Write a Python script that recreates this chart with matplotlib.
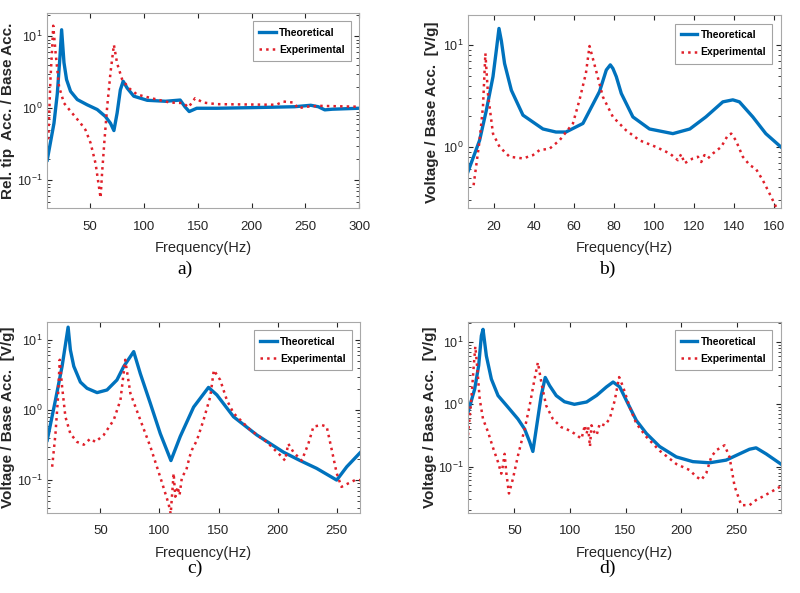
import numpy as np
import matplotlib
matplotlib.use("Agg")
import matplotlib.pyplot as plt
from matplotlib.ticker import LogLocator, NullFormatter

plt.rcParams['font.family'] = ['Liberation Sans', 'DejaVu Sans']

#----------------------------------------------------------------------------------------------------------
# Donnees (frequence en Hz, amplitude)
#----------------------------------------------------------------------------------------------------------

# a) Rel. tip acc.
fa_th = [10, 16.3, 19.4, 21.9, 23.4, 25.6, 28, 31.7, 38, 47, 56.5, 64, 68.8, 72, 75, 78, 80.6, 84.4, 90.5,
         103, 120, 133.6, 138, 142, 149, 167.5, 200, 240, 255, 262, 268, 275, 300]
va_th = [0.19, 0.62, 1.6, 5.3, 12.3, 4.3, 2.5, 1.72, 1.32, 1.12, 0.96, 0.77, 0.62, 0.49, 0.86, 1.8, 2.37,
         1.9, 1.47, 1.29, 1.25, 1.3, 1.05, 0.9, 1.0, 1.0, 1.02, 1.05, 1.1, 1.05, 0.95, 0.97, 1.0]
fa_ex = [11, 13, 14.7, 15.6, 17.8, 21, 25.6, 31.7, 41, 45.6, 50.3, 55, 58, 59.6, 61, 63.3, 65.8, 68.8, 72,
         75, 79.7, 86, 93.6, 106, 124, 136.6, 141.3, 147.5, 155, 167.6, 217, 223, 229.5, 239, 243, 251, 263, 300]
va_ex = [0.37, 2.5, 7.3, 14, 5.9, 2.0, 1.18, 0.91, 0.62, 0.5, 0.33, 0.17, 0.083, 0.057, 0.126, 0.37, 1.07,
         3.1, 7.6, 4.2, 2.5, 1.9, 1.55, 1.39, 1.2, 1.18, 1.03, 1.38, 1.2, 1.14, 1.12, 1.12, 1.24, 1.2, 1.0,
         1.05, 1.08, 1.05]

# b) Voltage
fb_th = [7, 12.8, 16.2, 19.5, 21.2, 22.5, 23.7, 25.3, 28.7, 34.5, 44.5, 51, 56, 64.5, 72.8, 76.2, 78.2,
         79.5, 81.2, 83.7, 89.5, 97.8, 109.5, 118, 126, 134.5, 139.5, 142.8, 149.5, 156, 163.5]
vb_th = [0.57, 1.16, 2.3, 4.9, 9.0, 14.6, 11, 6.6, 3.6, 2.05, 1.5, 1.4, 1.4, 1.7, 3.5, 5.7, 6.4, 5.9, 4.9,
         3.35, 1.97, 1.5, 1.35, 1.5, 1.97, 2.77, 2.9, 2.77, 1.97, 1.35, 1.0]
fb_ex = [9.8, 12.8, 14.5, 15.7, 17, 19.5, 22.8, 27.8, 34.5, 39.5, 42.8, 47.8, 52.8, 59.5, 62.8, 66, 67.8,
         71, 74.5, 79.5, 86, 92.8, 101, 108, 112, 113.7, 115.3, 119.5, 122, 123.7, 125.3, 127, 129.5, 133.7,
         137, 138.7, 141, 144.5, 148, 151, 154.5, 157.8, 161, 163.5]
vb_ex = [0.42, 1.16, 2.5, 8.3, 3.3, 1.35, 1.0, 0.8, 0.77, 0.83, 0.93, 0.96, 1.16, 1.7, 2.9, 5.3, 9.8,
         5.7, 3.1, 1.97, 1.46, 1.16, 1.0, 0.86, 0.74, 0.85, 0.69, 0.77, 0.8, 0.71, 0.83, 0.77, 0.86, 1.0,
         1.3, 1.35, 1.16, 0.8, 0.66, 0.61, 0.47, 0.35, 0.26, 0.22]

# c) Voltage
fc_th = [5, 12, 17.6, 22.7, 24.6, 27.5, 33.1, 38.7, 47.2, 55.6, 64, 69.7, 78.2, 83.8, 92.3, 100.7, 109.7,
         117.6, 128.9, 141.5, 148.6, 162.7, 182.4, 205, 219, 233, 250, 258.5, 269.7]
vc_th = [0.37, 1.39, 4.2, 15.2, 7.2, 4.2, 2.5, 2.04, 1.77, 1.93, 2.68, 4.16, 6.8, 3.3, 1.24, 0.46, 0.19,
         0.42, 1.1, 2.1, 1.64, 0.8, 0.44, 0.25, 0.19, 0.147, 0.1, 0.155, 0.245]
fc_ex = [9.2, 12, 14, 15.6, 17.6, 20.4, 24.6, 30.3, 36, 41.5, 45.8, 52.8, 61.3, 67, 71, 75.4, 83.8, 92.3,
         100.7, 107.7, 109.5, 112, 113.4, 115.4, 117, 119, 122.7, 125.5, 127.5, 131.7, 137.3, 143, 146,
         151.4, 157, 162.7, 176.8, 190.8, 202, 206.3, 209, 213.4, 220.4, 226, 230.3, 237.3, 241.5, 245.8,
         250, 254, 259.9, 265.5, 269.7]
vc_ex = [0.155, 0.46, 1.39, 5.2, 2.15, 0.8, 0.46, 0.35, 0.32, 0.39, 0.35, 0.44, 0.72, 1.39, 5.2, 1.73,
         0.72, 0.3, 0.11, 0.046, 0.033, 0.125, 0.058, 0.08, 0.061, 0.11, 0.139, 0.215, 0.27, 0.37, 0.72,
         1.55, 3.7, 2.68, 1.39, 0.9, 0.52, 0.35, 0.228, 0.19, 0.33, 0.25, 0.19, 0.33, 0.58, 0.61, 0.58,
         0.27, 0.125, 0.08, 0.09, 0.1, 0.1]

# d) Voltage
fd_th = [8.4, 14.4, 18, 20.4, 21.9, 24.9, 29.4, 35.4, 44.3, 53.3, 59.3, 63.8, 66.7, 69.7, 74.2, 77.8,
         81.7, 87.7, 95.1, 104, 115, 124, 132.8, 138.8, 144.8, 152.2, 159.7, 168.7, 180.6, 195.6, 210.5,
         225.5, 240.4, 252.4, 261.4, 267.3, 276.3, 289.5]
vd_th = [0.74, 1.76, 4.2, 12.6, 16, 6.0, 2.54, 1.38, 0.9, 0.58, 0.4, 0.25, 0.175, 0.4, 1.38, 2.7, 2.0,
         1.38, 1.1, 1.0, 1.09, 1.39, 1.9, 2.28, 1.9, 1.02, 0.55, 0.34, 0.21, 0.143, 0.12, 0.115, 0.127,
         0.16, 0.19, 0.2, 0.16, 0.11]
fd_ex = [8.4, 11.4, 13.8, 15, 16.8, 18.9, 21.9, 26.4, 30.9, 35.4, 38.3, 39.8, 41.3, 42.8, 45.2, 48.8,
         53.3, 59.3, 63.8, 68.2, 71.2, 74.8, 78.7, 84.7, 92.2, 98.1, 104, 110.4, 113.4, 115, 116.4, 118,
         119.4, 121.8, 124, 126.8, 131.3, 135.8, 140.3, 144.2, 147.8, 153.7, 159.7, 168.7, 180.6, 195.6,
         207.5, 213.5, 218, 222.5, 227, 231.5, 239, 243.4, 248, 254, 261.4, 267.3, 273.3, 289.5]
vd_ex = [0.32, 1.22, 4.7, 8.5, 3.7, 1.22, 0.58, 0.36, 0.2, 0.118, 0.077, 0.104, 0.16, 0.08, 0.037,
         0.064, 0.15, 0.4, 0.95, 2.54, 4.7, 2.0, 0.95, 0.58, 0.43, 0.39, 0.34, 0.28, 0.46, 0.34, 0.43,
         0.21, 0.46, 0.36, 0.32, 0.49, 0.46, 0.59, 1.16, 2.74, 1.9, 0.9, 0.49, 0.3, 0.18, 0.11, 0.088,
         0.069, 0.061, 0.078, 0.143, 0.183, 0.22, 0.143, 0.048, 0.024, 0.024, 0.029, 0.033, 0.048]

ylab_a = "Rel. tip  Acc. / Base Acc."
ylab_v = "Voltage / Base Acc.  [V/g]"

#----------------------------------------------------------------------------------------------------------

bleu = "#0072BD"
rouge = "#E0202A"

fig = plt.figure(figsize=(8, 5.93), dpi=100)

# (position axes, donnees..., limites, label, x du label, lettre, position lettre, ticks x)
panneaux = [
    ([0.059, 0.649, 0.39, 0.329], fa_th, va_th, fa_ex, va_ex, (10, 300), (0.041, 21), ylab_a, -0.102,
     "a)", (0.231, 0.546), [50, 100, 150, 200, 250, 300]),
    ([0.585, 0.649, 0.391, 0.325], fb_th, vb_th, fb_ex, vb_ex, (7, 163.5), (0.25, 19.6), ylab_v, -0.092,
     "b)", (0.759, 0.546), [20, 40, 60, 80, 100, 120, 140, 160]),
    ([0.059, 0.135, 0.391, 0.322], fc_th, vc_th, fc_ex, vc_ex, (5, 269.7), (0.034, 18), ylab_v, -0.102,
     "c)", (0.244, 0.041), [50, 100, 150, 200, 250]),
    ([0.585, 0.135, 0.391, 0.322], fd_th, vd_th, fd_ex, vd_ex, (8.4, 289.5), (0.018, 21), ylab_v, -0.098,
     "d)", (0.759, 0.041), [50, 100, 150, 200, 250]),
]

for pos, ft, vt, fe, ve, xl, yl, ylab, ylx, lettre, lpos, xt in panneaux:
    ax = fig.add_axes(pos)
    ax.plot(ft, vt, color=bleu, lw=2.4, label="Theoretical", solid_joinstyle="round")
    ax.plot(fe, ve, color=rouge, lw=1.8, ls=":", label="Experimental")
    ax.set_yscale("log")
    ax.set_xlim(xl)
    ax.set_ylim(yl)
    ax.set_xticks(xt)
    ax.yaxis.set_major_locator(LogLocator(base=10, numticks=10))
    ax.yaxis.set_minor_locator(LogLocator(base=10, subs=np.arange(2, 10), numticks=10))
    ax.yaxis.set_minor_formatter(NullFormatter())
    ax.tick_params(which="both", direction="in", top=True, right=True, labelsize=9.5, colors="#262626")
    ax.tick_params(which="major", length=3.5)
    ax.tick_params(which="minor", length=2)
    ax.tick_params(axis="x", which="major", pad=9)
    ax.tick_params(axis="y", which="major", pad=3, labelsize=9)
    for s in ax.spines.values():
        s.set_color("#a8a8a8")
        s.set_linewidth(0.8)
    ax.set_xlabel("Frequency(Hz)", fontsize=10.5, color="#262626", labelpad=6)
    ax.set_ylabel(ylab, fontsize=11, fontweight="bold", color="#262626")
    ax.yaxis.set_label_coords(ylx, 0.5)
    leg = ax.legend(loc="upper right", prop={"size": 7.5, "weight": "bold"}, frameon=True,
                    fancybox=False, handlelength=1.6, handletextpad=0.3, borderpad=0.6,
                    labelspacing=0.7, borderaxespad=0.8)
    leg.get_frame().set_edgecolor("#8c8c8c")
    leg.get_frame().set_linewidth(0.8)
    fig.text(lpos[0], lpos[1], lettre, ha="center", va="center",
             family=["Liberation Serif", "DejaVu Serif"], fontsize=14)

fig.savefig("out.png", dpi=100)
